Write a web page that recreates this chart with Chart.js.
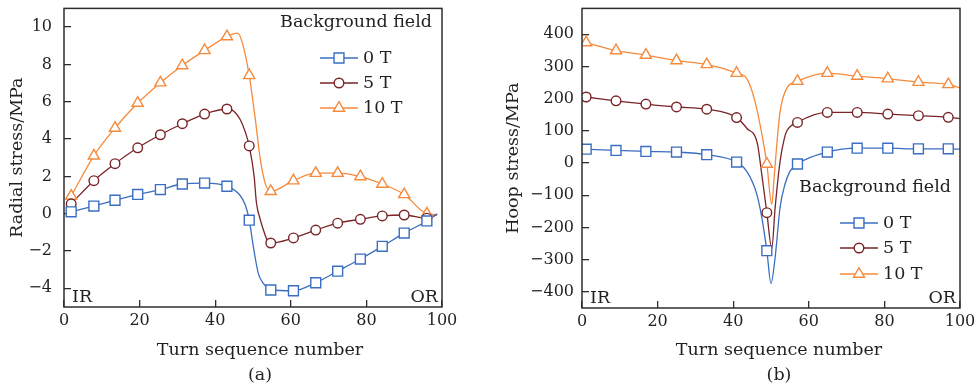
<!DOCTYPE html>
<html>
<head>
<meta charset="utf-8">
<script src="https://cdn.jsdelivr.net/npm/chart.js@4.4.0/dist/chart.umd.min.js"></script>
<style>
  html, body { margin: 0; padding: 0; background: #fff; }
  #wrap { position: relative; width: 978px; height: 392px; }
  .box { position: absolute; top: 0; width: 489px; height: 392px; }
</style>
</head>
<body>
<div id="wrap">
  <div class="box" style="left:0"><canvas id="radial" width="489" height="392"></canvas></div>
  <div class="box" style="left:489px"><canvas id="hoop" width="489" height="392"></canvas></div>
</div>
<script>
const seriesLabels = ['0 T', '5 T', '10 T'];
const seriesColors = ['#3a6ec2', '#7a2428', '#f68a3c'];
const pointStyles = ['rect', 'circle', 'triangle'];
const pointSizes = [7, 4.8, 6.4];

const xTicks = [0, 20, 40, 60, 80, 100];

// (a) radial stress, marker points
const radialTurns = [1.9, 7.9, 13.5, 19.5, 25.5, 31.3, 37.2, 43.1, 49.0, 54.7, 60.7, 66.6, 72.4, 78.4, 84.2, 90.0, 96.0];
const radial0T = [0.10, 0.41, 0.72, 1.03, 1.29, 1.59, 1.64, 1.47, -0.35, -4.09, -4.13, -3.70, -3.08, -2.43, -1.75, -1.04, -0.39];
const radial5T = [0.53, 1.77, 2.68, 3.53, 4.23, 4.82, 5.34, 5.61, 3.63, -1.57, -1.30, -0.88, -0.51, -0.30, -0.12, -0.07, -0.24];
const radial10T = [0.95, 3.10, 4.59, 5.93, 7.02, 7.94, 8.75, 9.49, 7.41, 1.20, 1.77, 2.17, 2.17, 1.99, 1.59, 1.03, 0.00];
// extra points (no marker)
const radialExtraX0T = [46.5, 48.0, 50.2, 51.4, 52.8, 98.7];
const radialExtra0T = [1.00, 0.45, -1.90, -3.20, -3.75, 0.00];
const radialExtraX5T = [44.5, 46.6, 48.0, 50.3, 50.9, 51.9, 52.8, 53.7, 98.7];
const radialExtra5T = [5.55, 5.05, 4.35, 2.00, 0.60, -0.30, -0.90, -1.40, -0.05];
const radialExtraX10T = [45.9, 47.2, 50.6, 51.9, 53.2, 98.7];
const radialExtra10T = [9.67, 9.14, 5.08, 2.96, 1.64, -0.05];
const radialYTicks = [-4, -2, 0, 2, 4, 6, 8, 10];

// (b) hoop stress, marker points
const hoopTurns = [1.1, 9.0, 16.9, 25.0, 33.0, 40.9, 48.9, 57.0, 64.9, 72.8, 80.9, 89.0, 96.9];
const hoop0T = [43, 39, 36, 34, 26, 3, -272, -3, 34, 46, 46, 44, 44];
const hoop5T = [205, 193, 183, 174, 167, 141, -154, 126, 157, 157, 152, 147, 142];
const hoop10T = [374, 349, 335, 318, 306, 279, -3, 254, 279, 270, 262, 251, 244];
const hoopExtraX0T = [43.6, 46.2, 47.5, 50.0, 51.1, 52.4, 53.7, 55.0, 100];
const hoopExtra0T = [-26, -95, -165, -374, -292, -138, -66, -26, 43];
const hoopExtraX5T = [43.6, 46.4, 47.5, 50.2, 51.1, 52.4, 53.5, 54.2, 100];
const hoopExtra5T = [108, 60, -30, -265, -138, 5, 75, 100, 138];
const hoopExtraX10T = [43.6, 45.8, 47.5, 50.2, 50.8, 51.6, 52.4, 54.1, 100];
const hoopExtra10T = [262, 190, 95, -128, -50, 67, 159, 231, 233];
const hoopYTicks = [-400, -300, -200, -100, 0, 100, 200, 300, 400];

const axisColor = '#2e2e2e';
const textColor = '#231f20';
const family = '"DejaVu Serif", serif';

function curve(mx, my, ex, ey) {
  const pts = mx.map((x, i) => ({ x: x, y: my[i] }))
    .concat(ex.map((x, i) => ({ x: x, y: ey[i] })));
  return pts.sort((a, b) => a.x - b.x);
}

function buildDatasets(turns, series, extras) {
  const sets = [];
  series.forEach((vals, i) => {
    sets.push({
      label: seriesLabels[i] + ' line',
      data: curve(turns, vals, extras[i][0], extras[i][1]),
      borderColor: seriesColors[i],
      borderWidth: 1.3,
      pointRadius: 0,
      cubicInterpolationMode: 'monotone',
      fill: false,
      order: 2
    });
    sets.push({
      label: seriesLabels[i],
      data: turns.map((x, k) => ({ x: x, y: vals[k] })),
      showLine: false,
      pointStyle: pointStyles[i],
      pointRadius: pointSizes[i],
      pointBackgroundColor: '#fff',
      pointBorderColor: seriesColors[i],
      pointBorderWidth: 1.4,
      order: 1
    });
  });
  return sets;
}

function drawMarker(ctx, style, x, y, r) {
  ctx.beginPath();
  if (style === 'rect') {
    const s = r * Math.SQRT1_2;
    ctx.rect(x - s, y - s, 2 * s, 2 * s);
  } else if (style === 'circle') {
    ctx.arc(x, y, r, 0, Math.PI * 2);
  } else {
    let a = 0;
    ctx.moveTo(x + Math.sin(a) * r, y - Math.cos(a) * r);
    a += Math.PI * 2 / 3;
    ctx.lineTo(x + Math.sin(a) * r, y - Math.cos(a) * r);
    a += Math.PI * 2 / 3;
    ctx.lineTo(x + Math.sin(a) * r, y - Math.cos(a) * r);
    ctx.closePath();
  }
  ctx.fill();
  ctx.stroke();
}

// frame, legend, IR/OR and captions
const framePlugin = {
  id: 'frame',
  afterDraw(chart, args, o) {
    const ctx = chart.ctx;
    const a = chart.chartArea;
    ctx.save();
    ctx.strokeStyle = axisColor;
    ctx.lineWidth = 1.5;
    ctx.strokeRect(a.left, a.top, a.right - a.left, a.bottom - a.top);

    ctx.fillStyle = textColor;
    ctx.font = '17.5px ' + family;
    ctx.textBaseline = 'middle';
    ctx.textAlign = 'right';
    ctx.fillText('Background field', o.titleRight, o.titleY);

    seriesLabels.forEach((lab, i) => {
      const y = o.rowY[i];
      ctx.strokeStyle = seriesColors[i];
      ctx.lineWidth = 1.3;
      ctx.beginPath();
      ctx.moveTo(o.lineX1, y);
      ctx.lineTo(o.lineX2, y);
      ctx.stroke();
      ctx.fillStyle = '#fff';
      ctx.lineWidth = 1.4;
      drawMarker(ctx, pointStyles[i], (o.lineX1 + o.lineX2) / 2, y, pointSizes[i]);
      ctx.fillStyle = textColor;
      ctx.textAlign = 'left';
      ctx.fillText(lab, o.lineX2 + 5, y);
    });

    ctx.textAlign = 'left';
    ctx.fillText('IR', a.left + 8, a.bottom - 10);
    ctx.textAlign = 'right';
    ctx.fillText('OR', a.right - 4, a.bottom - 10);

    ctx.textAlign = 'center';
    ctx.textBaseline = 'alphabetic';
    ctx.fillText('Turn sequence number', o.captionX, 355);
    ctx.fillText(o.caption, o.captionX, 380);
    ctx.restore();
  }
};

function makeChart(id, cfg) {
  return new Chart(document.getElementById(id), {
    type: 'line',
    data: { datasets: buildDatasets(cfg.turns, cfg.series, cfg.extras) },
    options: {
      responsive: false,
      animation: false,
      devicePixelRatio: 1,
      layout: { padding: { left: 0, right: cfg.padRight, top: cfg.padTop, bottom: 0 } },
      plugins: {
        legend: { display: false },
        tooltip: { enabled: false },
        frame: cfg.frame
      },
      scales: {
        x: {
          type: 'linear',
          min: 0,
          max: 100,
          afterBuildTicks: s => { s.ticks = xTicks.map(v => ({ value: v })); },
          afterFit: s => { s.height = cfg.xHeight; s.paddingLeft = 0; s.paddingRight = 0; },
          grid: { drawOnChartArea: false, drawTicks: true, tickLength: -7, color: axisColor, lineWidth: 1.3 },
          border: { display: false },
          ticks: { padding: 11, color: textColor, font: { family: family, size: 16 }, maxRotation: 0, autoSkip: false }
        },
        y: {
          type: 'linear',
          min: cfg.yMin,
          max: cfg.yMax,
          afterBuildTicks: s => { s.ticks = cfg.yTicks.map(v => ({ value: v })); },
          afterFit: s => { s.width = cfg.yWidth; s.paddingTop = 0; s.paddingBottom = 0; },
          grid: { drawOnChartArea: false, drawTicks: true, tickLength: -7, color: axisColor, lineWidth: 1.3 },
          border: { display: false },
          ticks: {
            padding: cfg.yTickPad, color: textColor, font: { family: family, size: 16 }, autoSkip: false,
            callback: v => (v < 0 ? '\u2212' + Math.abs(v) : String(v))
          },
          title: {
            display: true,
            text: cfg.yTitle,
            color: textColor,
            font: { family: family, size: 17.5 },
            padding: { top: cfg.yTitlePad, bottom: 0 }
          }
        }
      }
    },
    plugins: [framePlugin]
  });
}

makeChart('radial', {
  turns: radialTurns,
  series: [radial0T, radial5T, radial10T],
  extras: [[radialExtraX0T, radialExtra0T], [radialExtraX5T, radialExtra5T], [radialExtraX10T, radialExtra10T]],
  yMin: -5, yMax: 11, yTicks: radialYTicks,
  yTitle: 'Radial stress/MPa',
  padRight: 47, padTop: 5, xHeight: 85, yWidth: 64, yTickPad: 19, yTitlePad: 7,
  frame: { titleRight: 432, titleY: 22, rowY: [58, 83, 108], lineX1: 320, lineX2: 358, captionX: 260, caption: '(a)' }
});

makeChart('hoop', {
  turns: hoopTurns,
  series: [hoop0T, hoop5T, hoop10T],
  extras: [[hoopExtraX0T, hoopExtra0T], [hoopExtraX5T, hoopExtra5T], [hoopExtraX10T, hoopExtra10T]],
  yMin: -450, yMax: 480, yTicks: hoopYTicks,
  yTitle: 'Hoop stress/MPa',
  padRight: 18, padTop: 6, xHeight: 84, yWidth: 93, yTickPad: 15, yTitlePad: 14,
  frame: { titleRight: 462, titleY: 187, rowY: [223, 248, 274], lineX1: 351, lineX2: 389, captionX: 290, caption: '(b)' }
});
</script>
</body>
</html>
